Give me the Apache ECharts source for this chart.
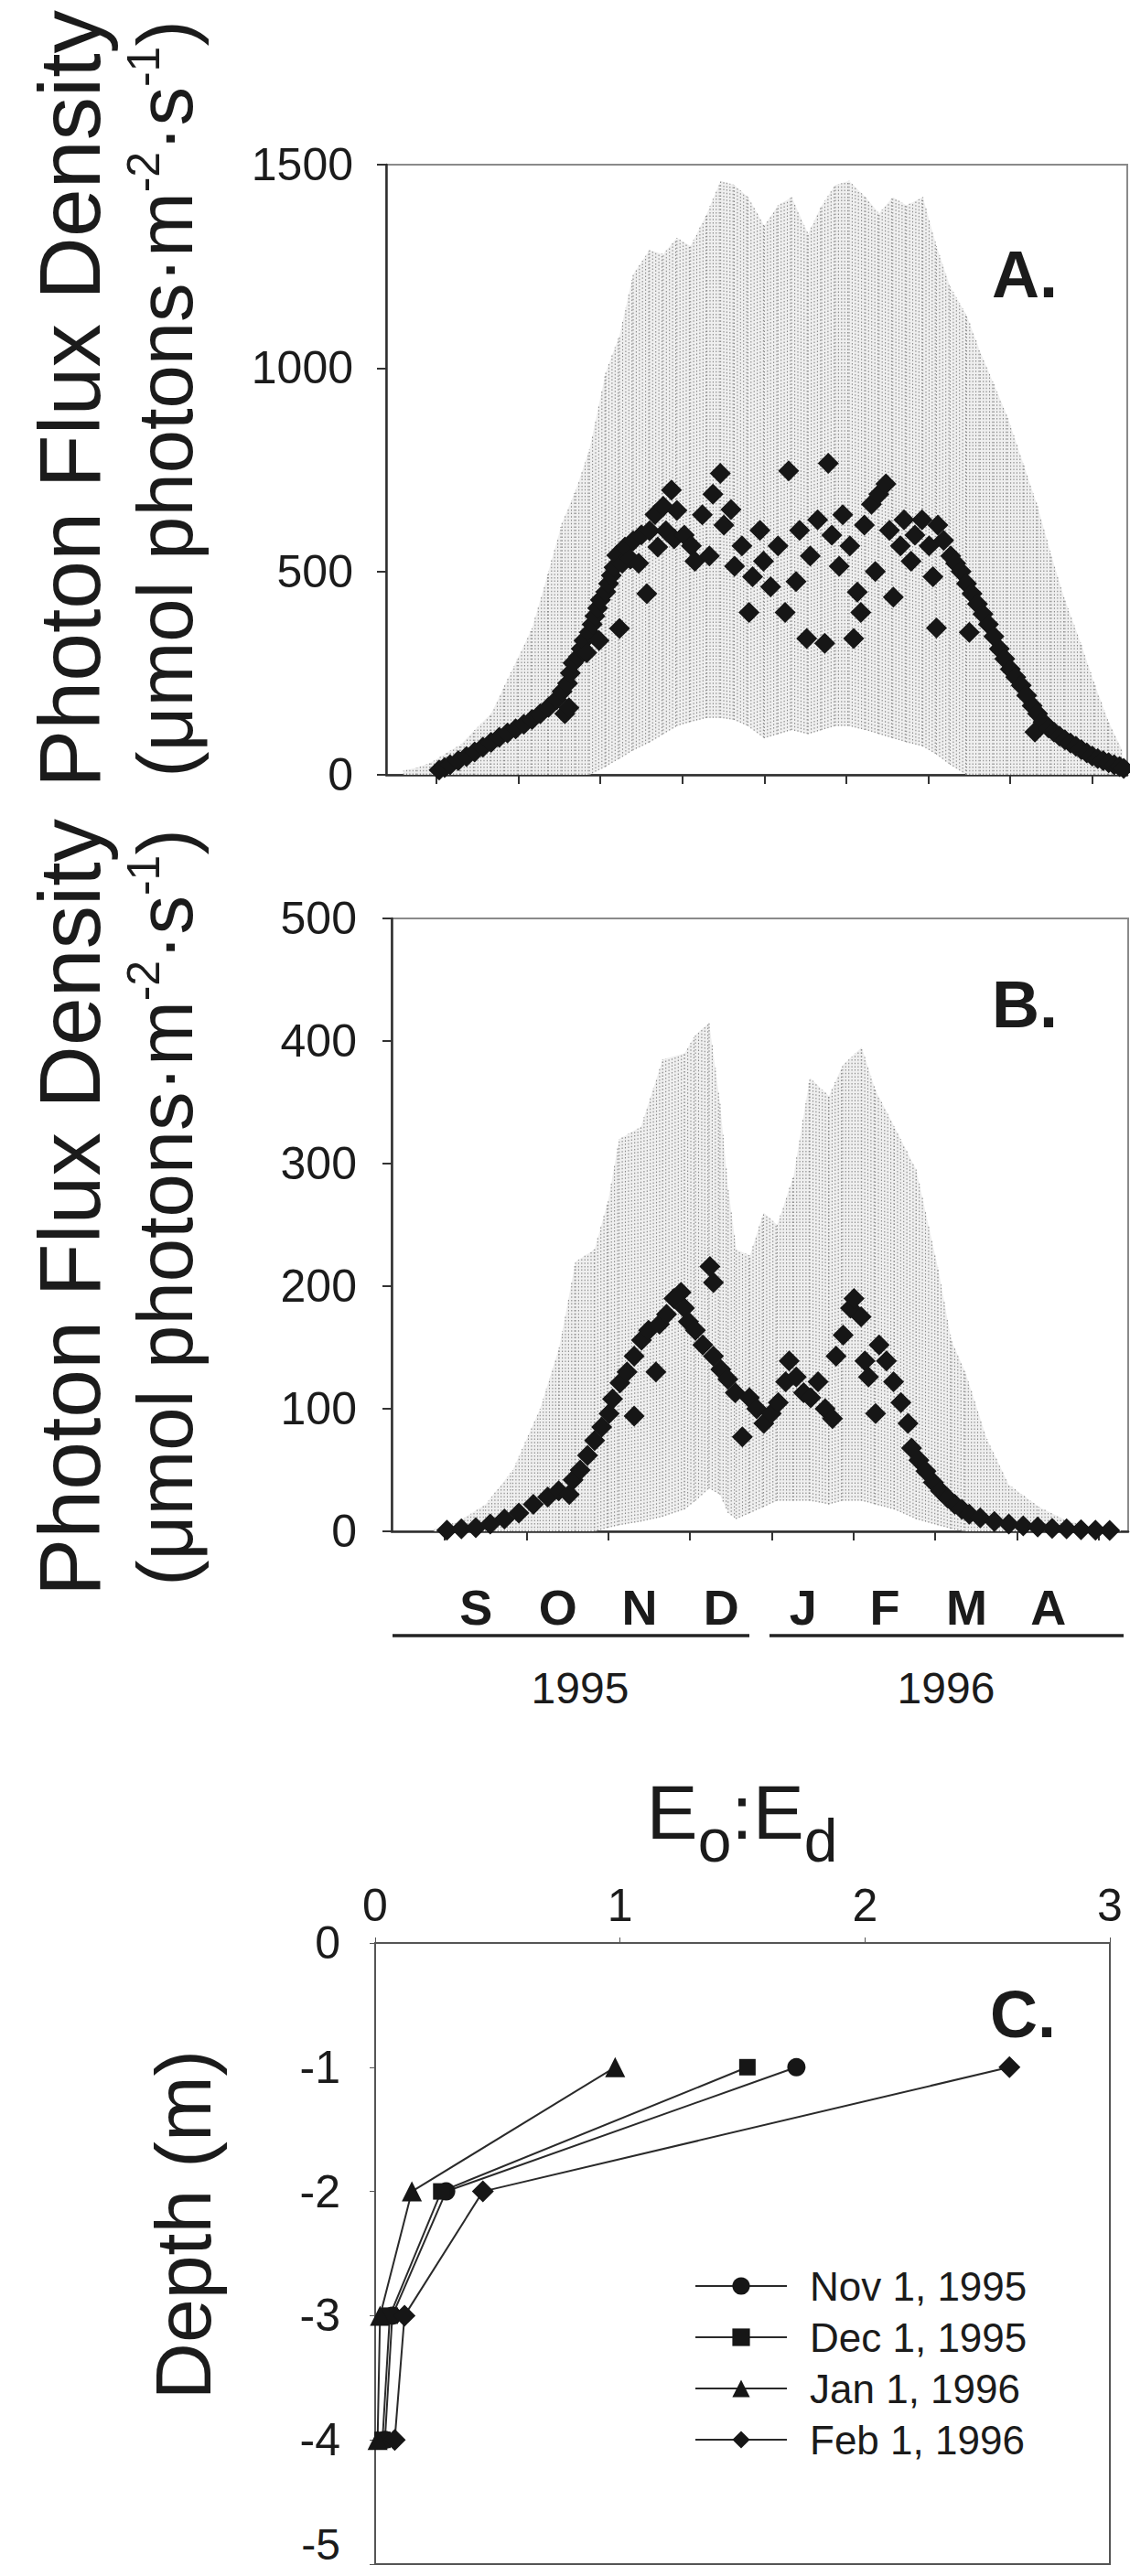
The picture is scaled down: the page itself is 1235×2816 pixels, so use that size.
<!DOCTYPE html>
<html><head><meta charset="utf-8">
<script src="https://cdn.jsdelivr.net/npm/echarts@6/dist/echarts.min.js"></script>
<style>html,body{margin:0;padding:0;background:#fff}#c{width:1235px;height:2816px}</style>
</head><body><div id="c"></div><script>
// ---------- Data (days counted from the first month tick, "S") ----------
const monthLabels = ['S','O','N','D','J','F','M','A'];
const monthTickDays = [0,30,60,90,120,150,180,210,240];
const yearLabels = ['1995','1996'];

// Panel A: daily mean PFD (diamonds)
const aDays = [1,3,5,8,11,14,17,20,23,26,29,32,35,38,41,44,46,47,48,48.5,49,50,52,53,54,55,56,57,58,59,59.5,60,62,63,64,65,66,67,68,69,71,72,74,75,77,78,80,81,83,84,86,87,88,
  90.7,93.3,94.6,97.3,99.9,101.2,103.9,105.2,107.8,109.1,111.8,114.4,115.7,118.4,119.7,122.3,125,127.6,128.9,131.6,132.9,135.5,136.8,139.5,142.1,143.4,144.7,147.4,148.7,151.3,152.7,154,155.3,156.6,159.2,160.6,161.9,164.5,165.8,167.2,169.8,171.1,173.7,175.1,177.7,180.3,181.7,183,183.5,185.6,188.2,
  190,192,194,195,196,198,200,202,204,206,208,210,212,214,216,218,219,220,222,224,226,228,230,232,234,236,238,240,242,244,246,248,250,251.5];
const aVals = [12,18,25,35,45,56,68,80,92,103,113,124,136,150,166,185,205,150,225,165,250,275,290,310,330,300,350,370,390,410,330,430,450,470,490,510,540,360,520,560,530,575,520,590,445,600,640,560,660,600,700,580,650,
  589,563,525,639,538,690,741,614,652,513,563,399,487,601,525,462,563,399,747,475,601,335,538,627,323,766,589,513,639,563,335,449,399,614,665,500,690,715,601,437,563,627,525,589,627,563,487,361,614,576,538,
  520,500,470,350,445,420,395,370,340,310,285,260,240,220,195,170,105,150,130,115,105,95,86,78,70,62,54,46,40,35,30,25,20,16];

// Panel A: range of hourly PFD (grey streaks), high and low envelope per sampled day
const aEnvDays = [-12,-7,-2,4,9,14,20,25,30,35,41,46,51,56,62,67,72,78,83,88,93,99,104,109,114,120,125,130,136,141,146,151,157,162,167,172,178,183,188,194,199,204,209,215,220,225,230,236,241,246,251];
const aEnvHigh = [10,18,30,55,75,110,150,220,290,360,500,620,700,800,990,1080,1230,1290,1280,1320,1300,1380,1460,1450,1420,1350,1400,1420,1330,1400,1450,1460,1420,1380,1420,1400,1420,1300,1200,1130,1040,960,880,760,660,540,430,320,220,130,60];
const aEnvLow  = [0,0,0,0,0,0,0,0,0,0,0,0,0,0,20,40,60,80,100,120,130,140,140,135,120,90,100,110,100,110,120,120,110,100,90,80,70,50,25,0,0,0,0,0,0,0,0,0,0,0,0];

// Panel B: daily mean PFD (diamonds)
const bDays = [0.8,6.1,11.4,16.7,21.9,27.2,32.5,37.8,41.8,45.7,47.1,49.7,52.4,55,57.6,60.3,61.6,64.3,66.9,69.5,69.5,72.2,74.8,77.5,78.8,81.4,84.1,86.7,88,89.4,92,94.7,97.3,98.6,98.6,101.3,103.9,106.6,109.2,111.8,114.5,117.1,119.8,122.4,125.1,126.4,129,131.7,134.3,137,139.6,142.3,143.6,146.2,148.9,150.2,152.8,154.2,155.5,158.1,159.4,162.1,164.7,167.4,170,171.3,174,176.6,179.3,181.9,184.6,187.2,189.8,192.5,196.5,201.7,207,212.3,217.6,222.9,228.2,233.5,238.8,244];
const bVals = [1,2,3,6,10,15,22,28,33,30,42,50,62,74,85,96,108,121,130,94,143,156,164,130,169,177,190,195,182,171,164,152,216,203,143,132,124,113,77,109,100,88,96,105,122,139,126,113,109,122,100,92,143,160,182,190,175,139,126,96,152,139,122,105,88,68,58,49,40,33,27,22,18,14,11,8,6,4.5,3.5,2.5,2,1.3,1,0.8];

// Panel B: range of hourly PFD (grey streaks)
const bEnvDays = [-4,5,15,25,35,42,48,55,60,64,72,80,88,92,97,101,104,107,112,117,122,128,134,141,146,153,158,165,173,181,186,191,199,207,218,228,239,248];
const bEnvHigh = [2,8,22,50,100,150,220,230,270,320,330,385,390,405,415,350,280,230,225,260,250,290,370,355,380,395,360,330,295,215,155,130,75,38,20,9,3,1];
const bEnvLow  = [0,0,0,0,0,0,0,0,3,5,8,12,18,25,35,30,15,10,15,20,25,25,25,22,25,25,22,18,10,5,2,0,0,0,0,0,0,0];

// Panel C: Eo:Ed profiles
const depths = [-1,-2,-3,-4];
const cSeriesNames = ['Nov 1, 1995','Dec 1, 1995','Jan 1, 1996','Feb 1, 1996'];
const cNov = [1.72,0.29,0.07,0.04];
const cDec = [1.52,0.27,0.06,0.03];
const cJan = [0.98,0.15,0.02,0.01];
const cFeb = [2.59,0.44,0.12,0.08];

// ---------- Chart ----------
const FONT = '"Liberation Sans", Arial, sans-serif';
const INK = '#1b1b1b';
const chart = echarts.init(document.getElementById('c'), null, {renderer:'svg', width:1235, height:2816});

function pairs(xs, ys){ return xs.map((x,i)=>[x, ys[i]]); }
function bandTable(ds, hi, lo){
  const out = [];
  for (let i=0;i<ds.length-1;i++) out.push([ds[i],hi[i],lo[i],ds[i+1],hi[i+1],lo[i+1]]);
  return out;
}
function bandRender(params, api){
  const p1 = api.coord([api.value(0), api.value(1)]);
  const p2 = api.coord([api.value(3), api.value(4)]);
  const p3 = api.coord([api.value(3), api.value(5)]);
  const p4 = api.coord([api.value(0), api.value(2)]);
  let d = '';
  const w = p2[0]-p1[0];
  for (let x = p1[0]; x < p2[0]; x += 3.4){
    const t = (x-p1[0])/w;
    const yt = p1[1] + t*(p2[1]-p1[1]);
    const yb = p4[1] + t*(p3[1]-p4[1]);
    d += 'M'+x.toFixed(1)+' '+yb.toFixed(1)+'L'+x.toFixed(1)+' '+yt.toFixed(1);
  }
  return {type:'group', children:[
    {type:'polygon', shape:{points:[p1,p2,p3,p4]}, style:{fill:'#efefef', stroke:null}},
    {type:'path', shape:{pathData:d}, style:{stroke:'#8a8a8a', lineWidth:1.1, lineDash:[1.5,2.2], fill:null}}
  ]};
}

const axisLineStyle = {color:'#2e2e2e', width:2.5};
const tickLabel = {color:INK, fontSize:50, fontFamily:FONT};

function timeXAxis(gridIndex, min, max, showLabels){
  return {
    type:'value', gridIndex, min, max,
    axisLine:{show:true, onZero:false, lineStyle:axisLineStyle},
    axisTick:{show:true, length:10, lineStyle:{color:'#333', width:2}, customValues:monthTickDays},
    axisLabel: showLabels ? {
      show:true, margin:56, color:INK, fontSize:54, fontWeight:'bold', fontFamily:FONT,
      customValues: monthLabels.map((m,i)=>monthTickDays[i]+11.5),
      formatter: v => monthLabels[Math.round((v-11.5)/30)] || ''
    } : {show:false},
    splitLine:{show:false}
  };
}
function plainY(gridIndex, min, max, interval, margin){
  return {type:'value', gridIndex, min, max, interval,
    axisLine:{show:true, onZero:false, lineStyle:axisLineStyle},
    axisTick:{show:true, length:10, lineStyle:{color:'#333', width:2}},
    axisLabel:{...tickLabel, margin, formatter: v => String(v)}, splitLine:{show:false}};
}

const option = {
  animation:false,
  backgroundColor:'#fff',
  grid:[
    {left:422, top:180, width:810, height:667, show:true, borderColor:'#8a8a8a', borderWidth:2, backgroundColor:'transparent'},
    {left:428, top:1004, width:805, height:670, show:true, borderColor:'#8a8a8a', borderWidth:2, backgroundColor:'transparent'},
    {left:410, top:2124, width:803, height:679, show:true, borderColor:'#555', borderWidth:2, backgroundColor:'transparent'}
  ],
  xAxis:[
    timeXAxis(0, -18.4, 252.8, false),
    timeXAxis(1, -19.5, 250.8, true),
    {type:'value', gridIndex:2, position:'top', min:0, max:3, interval:1,
     axisLine:{show:true, onZero:false, lineStyle:{color:'#555', width:2}},
     axisTick:{show:true, inside:false, length:6, lineStyle:{color:'#555'}},
     axisLabel:{...tickLabel, margin:16}, splitLine:{show:false}}
  ],
  yAxis:[
    plainY(0, 0, 1500, 500, 36),
    plainY(1, 0, 500, 100, 38),
    {type:'value', gridIndex:2, min:-5, max:0, interval:1,
     axisLine:{show:true, onZero:false, lineStyle:{color:'#555', width:2}}, axisTick:{show:true, length:6, lineStyle:{color:'#555'}},
     axisLabel:{...tickLabel, margin:38, formatter: v => v === -5 ? '' : String(v)}, splitLine:{show:false}}
  ],
  legend:{
    show:true, orient:'vertical', left:754, top:2472, itemGap:12,
    itemWidth:100, itemHeight:24,
    data:cSeriesNames,
    textStyle:{color:INK, fontSize:44, fontFamily:FONT, lineHeight:44, padding:[0,0,0,20]}
  },
  series:[
    {type:'custom', name:'A range', xAxisIndex:0, yAxisIndex:0, renderItem:bandRender, data:bandTable(aEnvDays,aEnvHigh,aEnvLow), encode:{x:[0,3], y:[1,2,4,5]}, z:1, clip:true, silent:true},
    {type:'scatter', name:'A mean', xAxisIndex:0, yAxisIndex:0, data:pairs(aDays,aVals), symbol:'diamond', symbolSize:23, itemStyle:{color:'#161616', opacity:1}, z:3},
    {type:'custom', name:'B range', xAxisIndex:1, yAxisIndex:1, renderItem:bandRender, data:bandTable(bEnvDays,bEnvHigh,bEnvLow), encode:{x:[0,3], y:[1,2,4,5]}, z:1, clip:true, silent:true},
    {type:'scatter', name:'B mean', xAxisIndex:1, yAxisIndex:1, data:pairs(bDays,bVals), symbol:'diamond', symbolSize:23, itemStyle:{color:'#161616', opacity:1}, z:3},
    ...[[cNov,'circle',20],[cDec,'rect',18],[cJan,'triangle',22],[cFeb,'diamond',24]].map((s,i)=>({
      type:'line', name:cSeriesNames[i], xAxisIndex:2, yAxisIndex:2,
      data: depths.map((d,k)=>[s[0][k], d]),
      symbol:s[1], symbolSize:s[2], showSymbol:true,
      lineStyle:{color:'#2a2a2a', width:2}, itemStyle:{color:'#161616', opacity:1}, z:3
    }))
  ],
  graphic:[
    // y-axis titles
    {type:'text', x:76, y:436, rotation:Math.PI/2, style:{text:'Photon Flux Density', font:'95px '+FONT, fill:INK, align:'center', verticalAlign:'middle'}},
    {type:'text', x:180, y:436, rotation:Math.PI/2, style:{text:'(μmol photons·m{s|-2}·s{s|-1})', fontSize:85, fontFamily:FONT, lineHeight:96, fill:INK, align:'center', verticalAlign:'middle', rich:{s:{fontSize:50, fontFamily:FONT, lineHeight:50, verticalAlign:'top', fill:INK}}}},
    {type:'text', x:76, y:1320, rotation:Math.PI/2, style:{text:'Photon Flux Density', font:'95px '+FONT, fill:INK, align:'center', verticalAlign:'middle'}},
    {type:'text', x:180, y:1320, rotation:Math.PI/2, style:{text:'(μmol photons·m{s|-2}·s{s|-1})', fontSize:85, fontFamily:FONT, lineHeight:96, fill:INK, align:'center', verticalAlign:'middle', rich:{s:{fontSize:50, fontFamily:FONT, lineHeight:50, verticalAlign:'top', fill:INK}}}},
    {type:'text', x:200, y:2432, rotation:Math.PI/2, style:{text:'Depth (m)', font:'86px '+FONT, fill:INK, align:'center', verticalAlign:'middle'}},
    // last depth tick label, nudged up so it is not cut by the page edge
    {type:'text', x:372, y:2781, style:{text:'-5', font:'48px '+FONT, fill:INK, align:'right', verticalAlign:'middle'}},
    // panel letters
    {type:'text', x:1120, y:300, style:{text:'A.', font:'bold 72px '+FONT, fill:INK, align:'center', verticalAlign:'middle'}},
    {type:'text', x:1120, y:1098, style:{text:'B.', font:'bold 72px '+FONT, fill:INK, align:'center', verticalAlign:'middle'}},
    {type:'text', x:1118, y:2202, style:{text:'C.', font:'bold 72px '+FONT, fill:INK, align:'center', verticalAlign:'middle'}},
    // year brackets
    {type:'line', shape:{x1:429, y1:1788, x2:819, y2:1788}, style:{stroke:'#222', lineWidth:3.5}},
    {type:'line', shape:{x1:841, y1:1788, x2:1228, y2:1788}, style:{stroke:'#222', lineWidth:3.5}},
    {type:'text', x:634, y:1845, style:{text:yearLabels[0], font:'48px '+FONT, fill:INK, align:'center', verticalAlign:'middle'}},
    {type:'text', x:1034, y:1845, style:{text:yearLabels[1], font:'48px '+FONT, fill:INK, align:'center', verticalAlign:'middle'}},
    // Eo:Ed title
    {type:'text', x:811, y:1992, style:{text:'{b|E}{u|o}{b|:E}{u|d}', align:'center', verticalAlign:'middle', rich:{
      b:{fontSize:84, fontFamily:FONT, lineHeight:84, verticalAlign:'top', fill:INK},
      u:{fontSize:66, fontFamily:FONT, lineHeight:106, verticalAlign:'bottom', fill:INK}}}}
  ]
};
chart.setOption(option);
</script></body></html>
